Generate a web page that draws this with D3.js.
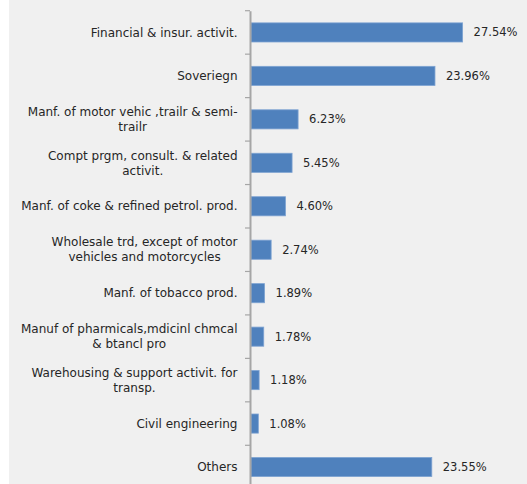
<!DOCTYPE html>
<html>
<head>
<meta charset="utf-8">
<script src="https://cdn.jsdelivr.net/npm/d3@7"></script>
<style>
  html, body { margin: 0; padding: 0; background: #ffffff; }
  svg { display: block; }
  text { font-family: "DejaVu Sans", sans-serif; fill: #262626; }
</style>
</head>
<body>
<svg id="chart" width="527" height="484"></svg>
<script>
// Sector exposure shares (%)
const sectors = [
  ["Financial & insur. activit."],
  ["Soveriegn"],
  ["Manf. of motor vehic ,trailr & semi-", "trailr"],
  ["Compt prgm, consult. & related", "activit."],
  ["Manf. of coke & refined petrol. prod."],
  ["Wholesale trd, except of motor", "vehicles and motorcycles"],
  ["Manf. of tobacco prod."],
  ["Manuf of pharmicals,mdicinl chmcal", "& btancl pro"],
  ["Warehousing & support activit. for", "transp."],
  ["Civil engineering"],
  ["Others"]
];
const shares = [27.54, 23.96, 6.23, 5.45, 4.60, 2.74, 1.89, 1.78, 1.18, 1.08, 23.55];
const shareLabels = ["27.54%", "23.96%", "6.23%", "5.45%", "4.60%", "2.74%", "1.89%", "1.78%", "1.18%", "1.08%", "23.55%"];
const xDomain = [0, 30];

const svg = d3.select("#chart");
const W = 527, H = 484;

// plot area background
svg.append("rect")
  .attr("x", 9).attr("y", 0)
  .attr("width", W - 9).attr("height", H)
  .attr("fill", "#f0f0f0");

const x0 = 250;
const x = d3.scaleLinear().domain(xDomain).range([x0, x0 + 231.6]);
const ids = d3.range(sectors.length);
const y = d3.scaleBand().domain(ids).range([10.7, 10.7 + 43.46 * sectors.length]).paddingInner(0.56).paddingOuter(0.28);
const yb = d3.scaleBand().domain(ids).range([10.7, 10.7 + 43.46 * sectors.length]);

// bars
svg.append("g").selectAll("rect")
  .data(ids)
  .join("rect")
  .attr("x", x(0) + 1)
  .attr("y", i => y(i))
  .attr("width", i => x(shares[i]) - x(0) - 1)
  .attr("height", y.bandwidth())
  .attr("fill", "#4f81bd")
  .attr("stroke", "#7ea3d2")
  .attr("stroke-width", 0.8);

// category axis
const axis = d3.axisLeft(yb).tickSize(0).tickFormat("");
const gAxis = svg.append("g").attr("transform", `translate(${x0},0)`).call(axis);
gAxis.select(".domain").attr("stroke", "#a6a6a6").attr("stroke-width", 2);
// tick marks on band boundaries
svg.append("g").selectAll("line")
  .data(d3.range(sectors.length + 1))
  .join("line")
  .attr("x1", x0 - 5).attr("x2", x0)
  .attr("y1", i => 10.7 + 43.46 * i).attr("y2", i => 10.7 + 43.46 * i)
  .attr("stroke", "#a6a6a6").attr("stroke-width", 1.2);

// category labels: block right-aligned, lines centered within the block
const fs = 12;
const lineH = 15;
const labelRight = 237.5;
const gLab = svg.append("g").attr("font-size", fs);
ids.forEach(i => {
  const lines = sectors[i];
  const cy = yb(i) + yb.bandwidth() / 2;
  const tmp = lines.map(l => gLab.append("text").text(l));
  const widths = tmp.map(t => t.node().getComputedTextLength());
  const maxW = d3.max(widths);
  const cx = labelRight - maxW / 2;
  tmp.forEach((t, k) => {
    t.attr("x", lines.length > 1 ? cx : labelRight)
     .attr("text-anchor", lines.length > 1 ? "middle" : "end")
     .attr("y", cy + (k - (lines.length - 1) / 2) * lineH)
     .attr("dy", "0.35em");
  });
});

// value labels
svg.append("g").attr("font-size", 11.5).selectAll("text")
  .data(ids)
  .join("text")
  .attr("x", i => x(shares[i]) + 11)
  .attr("y", i => yb(i) + yb.bandwidth() / 2)
  .attr("dy", "0.35em")
  .text(i => shareLabels[i]);
</script>
</body>
</html>
